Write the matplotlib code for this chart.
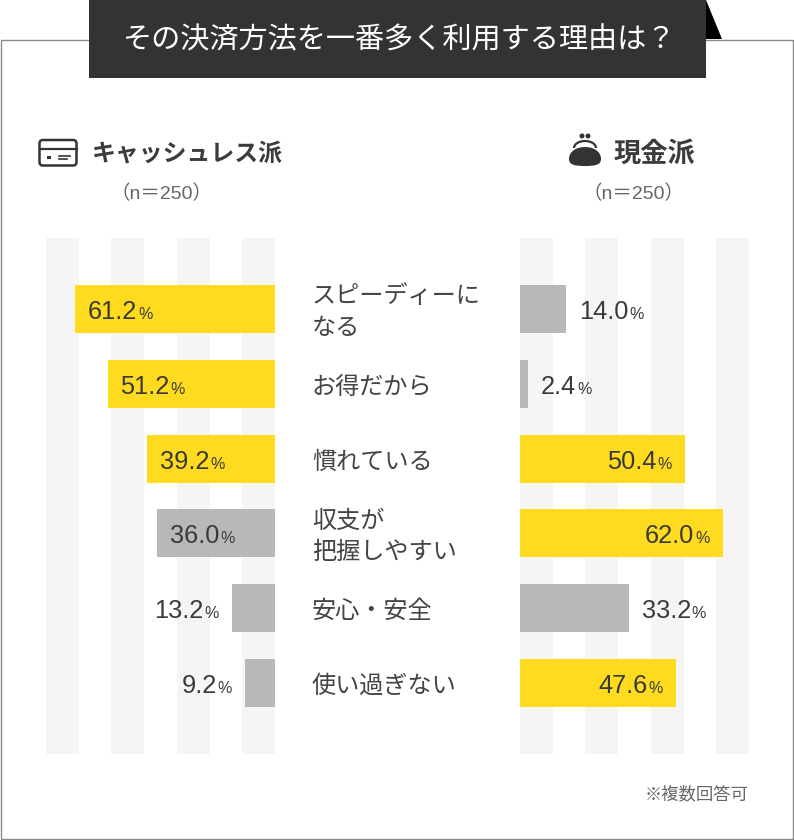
"""Cashless vs cash: reasons for using the payment method most."""

import matplotlib
matplotlib.use("Agg")
import matplotlib.pyplot as plt
from matplotlib.patches import Rectangle, FancyBboxPatch, Polygon, PathPatch, Circle, Arc
from matplotlib.path import Path

plt.rcParams['font.family'] = ['Noto Sans CJK JP', 'DejaVu Sans']

title = 'その決済方法を一番多く利用する理由は？'
categories = ['スピーディーに\nなる', 'お得だから', '慣れている',
              '収支が\n把握しやすい', '安心・安全', '使い過ぎない']
cashless = [61.2, 51.2, 39.2, 36.0, 13.2, 9.2]
cash = [14.0, 2.4, 50.4, 62.0, 33.2, 47.6]
cashless_top = [True, True, True, False, False, False]
cash_top = [False, False, True, True, False, True]
stripe_starts = [0, 20, 40, 60]

W, H = 794, 840
YELLOW = '#FFDB1F'
GRAY = '#B8B8B8'
STRIPE = '#F5F5F5'
TXT = '#3a3a3a'
DARK = '#333333'
LATIN = ['Liberation Sans', 'Noto Sans CJK JP']

fig = plt.figure(figsize=(W / 100, H / 100), dpi=100, facecolor='w')

# page overlay in pixel coords
bg = fig.add_axes([0, 0, 1, 1], zorder=0)
bg.set_xlim(0, W)
bg.set_ylim(H, 0)
bg.axis('off')
bg.add_patch(Rectangle((0.5, 39.5), W - 1.5, H - 40.5, fc='w', ec='#8a8a8a', lw=1.0))
bg.add_patch(Polygon([(706, 0), (722, 39), (706, 39)], fc='#000000', ec='none'))
bg.add_patch(Rectangle((89, 0), 617, 78, fc=DARK, ec='none'))
bg.text(398.5, 40, title, color='w', fontsize=21, ha='center', va='center')


def px_axes(x0, x1, y0=238, y1=754):
    return fig.add_axes([x0 / W, 1 - y1 / H, (x1 - x0) / W, (y1 - y0) / H], zorder=1)


def value_label(ax, x, y, val, side, inside):
    # number plus a smaller % sign on one baseline, placed as a group
    r = fig.canvas.get_renderer()
    base = y + 0.134
    t = ax.text(0, base, '%.1f' % val, fontsize=18.3, color=TXT, ha='left', va='baseline', family=LATIN)
    p = ax.text(0, base, '%', fontsize=11.5, color=TXT, ha='left', va='baseline', family=LATIN)
    wt = t.get_window_extent(r).width
    wp = p.get_window_extent(r).width
    scale = 70 / ax.get_window_extent(r).width
    gap = 13 * scale
    w = (wt + wp + 1) * scale
    if side == 'left':
        # left axes is inverted, data grows to the left
        x_num = x - gap if inside else x + gap + w
        t.set_x(x_num)
        p.set_x(x_num - (wt + 1) * scale)
    else:
        x_num = x - gap - w if inside else x + gap
        t.set_x(x_num)
        p.set_x(x_num + (wt + 1) * scale)


def panel(ax, vals, top, side):
    ax.set_xlim(70, 0) if side == 'left' else ax.set_xlim(0, 70)
    ax.set_ylim(5.949, -0.949)
    ax.axis('off')
    for s in stripe_starts:
        ax.axvspan(s, s + 10, color=STRIPE, lw=0, zorder=0)
    colors = [YELLOW if f else GRAY for f in top]
    ax.barh(range(len(vals)), vals, height=0.642, color=colors, zorder=2)
    for i, v in enumerate(vals):
        # long bars carry the label inside
        inside = v >= 36 if side == 'left' else v >= 40
        value_label(ax, v, i, v, side, inside)


ax_l = px_axes(46, 275)
ax_r = px_axes(520, 749)
panel(ax_l, cashless, cashless_top, 'left')
panel(ax_r, cash, cash_top, 'right')

# category labels between the panels
for i, c in enumerate(categories):
    bg.text(312, 312 + 74.8 * i, c, fontsize=17.4, color='#444444', ha='left',
            va='center', linespacing=1.26)

# panel headers
bg.text(92, 154, 'キャッシュレス派', fontsize=17.2, fontweight='bold', color='#3c3c3c', va='center')
bg.text(614, 154, '現金派', fontsize=19.6, fontweight='bold', color='#3c3c3c', va='center')
bg.text(161, 194, '（n＝250）', fontsize=14, color='#666666', ha='center', va='center', family=LATIN)
bg.text(634, 194, '（n＝250）', fontsize=14, color='#666666', ha='center', va='center', family=LATIN)
bg.text(749, 794, '※複数回答可', fontsize=12.5, color='#666666', ha='right', va='center')

# card icon
bg.add_patch(FancyBboxPatch((39.5, 140), 37, 25.5, boxstyle='round,pad=0,rounding_size=3.5',
                            fc='none', ec=DARK, lw=1.8))
bg.plot([39.5, 76.5], [148.5, 148.5], color=DARK, lw=1.6)
bg.add_patch(Rectangle((47, 155.5), 4, 3.5, fc=DARK, ec='none'))
bg.plot([59, 70], [156, 156], color=DARK, lw=1.2)
bg.plot([59, 67], [159, 159], color=DARK, lw=1.2)

# purse icon
purse = Path([(569, 159), (569, 151), (577, 147), (585, 147), (593, 147), (601, 151), (601, 159),
              (601, 165), (595, 166), (585, 166), (575, 166), (569, 165), (569, 159)],
             [Path.MOVETO] + [Path.CURVE4] * 12)
bg.add_patch(PathPatch(purse, fc=DARK, ec='none'))
bg.add_patch(Arc((585, 148), 22, 14, theta1=180, theta2=360, ec=DARK, lw=1.6))
bg.add_patch(Circle((582, 136), 2.5, fc=DARK, ec='none'))
bg.add_patch(Circle((588, 136), 2.5, fc=DARK, ec='none'))

fig.savefig('out.png', dpi=100, facecolor='w')
